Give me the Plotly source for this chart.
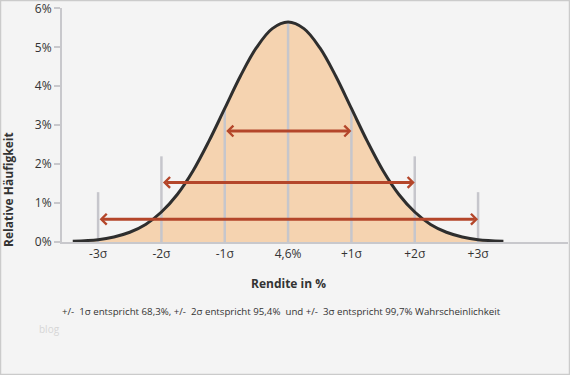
import plotly.graph_objects as go

# Curve samples (x in sigma units, y in % relative frequency)
curve_x = [-3.4, -3.0, -2.75, -2.5, -2.25, -2.0, -1.75, -1.5, -1.25, -1.0, -0.75, -0.5, -0.25, 0.0,
           0.25, 0.5, 0.75, 1.0, 1.25, 1.5, 1.75, 2.0, 2.25, 2.5, 2.75, 3.0, 3.4]
curve_y = [0.02, 0.06, 0.13, 0.25, 0.45, 0.77, 1.22, 1.83, 2.59, 3.43, 4.27, 4.99, 5.48, 5.65,
           5.48, 4.99, 4.27, 3.43, 2.59, 1.83, 1.22, 0.77, 0.45, 0.25, 0.13, 0.06, 0.02]

# Vertical reference lines
ref_sigma = [-3, -2, -1, 0, 1, 2, 3]
ref_top = [1.28, 2.2, 3.43, 5.65, 3.43, 2.2, 1.28]

# Double arrows (half-width in sigma, height in %)
arrow_sigma = [1, 2, 3]
arrow_y = [2.85, 1.53, 0.585]

tick_vals = [-3, -2, -1, 0, 1, 2, 3]
tick_text = ["-3σ", "-2σ", "-1σ", "4,6%", "+1σ", "+2σ", "+3σ"]
y_ticks = [0, 1, 2, 3, 4, 5, 6]
y_tick_text = ["0%", "1%", "2%", "3%", "4%", "5%", "6%"]

FONT = "Open Sans"
TXT = "#333333"
W, H = 570, 375
ML, MR, MT, MB = 62, 2, 8, 133
PW, PH = W - ML - MR, H - MT - MB

fig = go.Figure()
fig.add_trace(go.Scatter(x=curve_x, y=curve_y, mode="lines", line=dict(width=0, shape="spline"),
                         fill="tozeroy", fillcolor="#f5d3b0", hoverinfo="skip"))
lx, ly = [], []
for s, t in zip(ref_sigma, ref_top):
    lx += [s, s, None]
    ly += [0, t, None]
fig.add_trace(go.Scatter(x=lx, y=ly, mode="lines", line=dict(color="#c6c6cc", width=2.5), hoverinfo="skip"))
fig.add_trace(go.Scatter(x=curve_x, y=curve_y, mode="lines",
                         line=dict(color="#2e2e2e", width=3, shape="spline"), hoverinfo="skip"))

for s, h in zip(arrow_sigma, arrow_y):
    fig.add_annotation(x=s, y=h, ax=-s, ay=h, xref="x", yref="y", axref="x", ayref="y",
                       text="", showarrow=True, arrowhead=4, startarrowhead=4, arrowside="end+start",
                       arrowwidth=3, arrowsize=0.7, startarrowsize=0.7, arrowcolor="#b4462a")

fig.add_annotation(x=0, y=-41 / PH, xref="x", yref="paper", yanchor="middle", xanchor="center",
                   text="<b>Rendite in %</b>",
                   showarrow=False, font=dict(family=FONT, size=12, color=TXT))
fig.add_annotation(x=-54 / PW, y=52 / PH, xref="paper", yref="paper", xanchor="center", yanchor="middle",
                   text="<b>Relative Häufigkeit</b>",
                   textangle=-90, showarrow=False, font=dict(family=FONT, size=12, color=TXT))
fig.add_annotation(x=-2 / PW, y=-69 / PH, xref="paper", yref="paper", xanchor="left", yanchor="middle",
                   text="+/-  1σ entspricht 68,3%, +/-  2σ entspricht 95,4%  und +/-  3σ entspricht 99,7% Wahrscheinlichkeit",
                   showarrow=False, font=dict(family=FONT, size=9.7, color=TXT))
fig.add_annotation(x=-25 / PW, y=-87 / PH, xref="paper", yref="paper", xanchor="left", yanchor="middle",
                   text="blog",
                   showarrow=False, font=dict(family=FONT, size=10, color="#d6d6d6"))

# thin frame around the whole image
fig.add_shape(type="rect", xref="paper", yref="paper", layer="above",
              x0=(0.5 - ML) / PW, x1=(W - 0.5 - ML) / PW,
              y0=-(MB - 0.5) / PH, y1=1 + (MT - 0.5) / PH,
              line=dict(color="#cbcbcb", width=1.5), fillcolor="rgba(0,0,0,0)")

fig.update_layout(
    width=W, height=H, showlegend=False,
    margin=dict(l=ML, r=MR, t=MT, b=MB, autoexpand=False),
    paper_bgcolor="#f4f4f4", plot_bgcolor="#f4f4f4",
    font=dict(family=FONT, size=12, color=TXT),
    xaxis=dict(range=[-3.57, 4.42], tickvals=tick_vals, ticktext=tick_text, showgrid=False,
               zeroline=False, showline=True, linecolor="#c8c8cc", linewidth=2, ticks="",
               tickfont=dict(size=12, color=TXT)),
    yaxis=dict(range=[0, 6.01], tickvals=y_ticks, ticktext=y_tick_text, showgrid=False, zeroline=False,
               showline=True, linecolor="#c8c8cc", linewidth=2, ticks="outside", ticklen=6,
               tickcolor="#c8c8cc", tickwidth=2, tickfont=dict(size=12, color=TXT),
               ticklabeloverflow="allow"),
)
fig.write_html("out.html", config={"displayModeBar": False},
               post_script="document.body.style.margin='0';")
